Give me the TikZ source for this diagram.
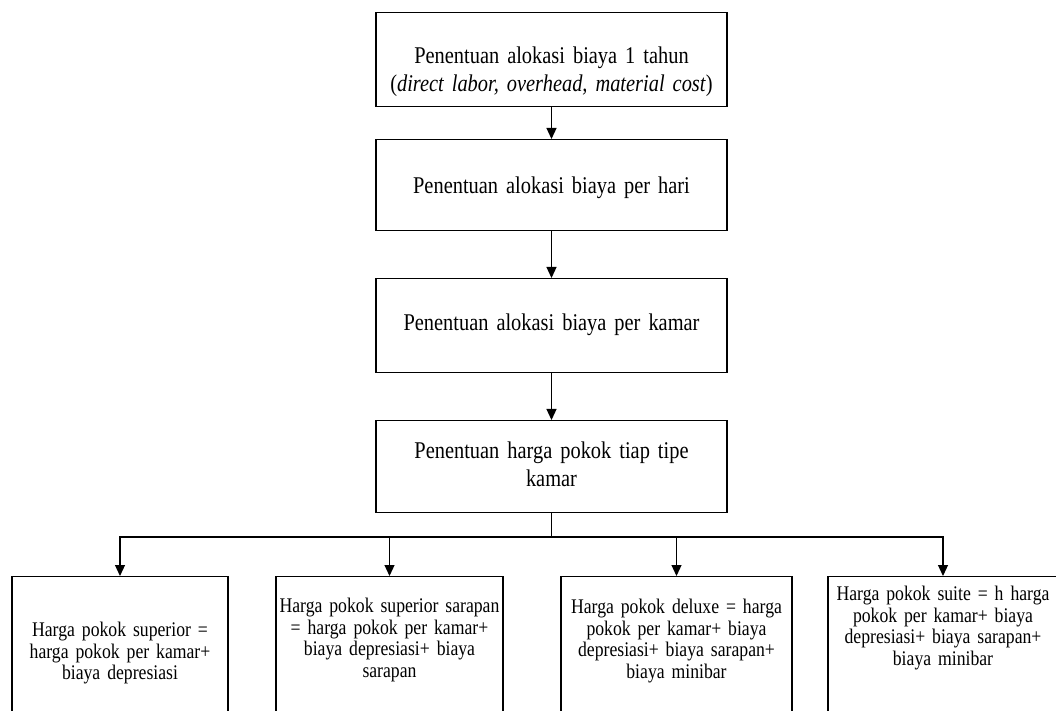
\documentclass[tikz,border=0pt]{standalone}
\usepackage{fontspec}
\setmainfont{Liberation Serif}[FakeStretch=0.85, WordSpace=0.8]
\usepackage{tikz}
\usetikzlibrary{positioning}
\usetikzlibrary{shapes,arrows.meta}
\tikzset{%
  block/.style    = {draw, rectangle, anchor=north, inner sep=0pt, align=center,
    text width=175.5pt, font=\fontsize{12pt}{14pt}\selectfont}, % Step
  result/.style   = {draw, rectangle, anchor=north, inner sep=0pt, align=center,
    text depth=100pt, font=\fontsize{10.4pt}{10.8pt}\selectfont}, % Room type
  split/.style    = {coordinate} % Branch
}

\begin{document}
\begin{tikzpicture}[x=0.5pt, y=-0.5pt, line width=0.6pt, >={Triangle[length=5.5pt, width=5pt]}]

	\useasboundingbox (0,0) rectangle (1056,711);
	\clip (0,0) rectangle (1056,711);

	\draw node at (551.5,12) [block, text height=25.5pt, text depth=21.5pt] (tahun) {Penentuan alokasi biaya 1 tahun\\(\textit{direct labor, overhead, material cost})};
	\draw node at (551.5,139) [block, text height=27pt, text depth=18.5pt] (hari) {Penentuan alokasi biaya per hari};
	\draw node at (551.5,278) [block, text height=26pt, text depth=21pt] (kamar) {Penentuan alokasi biaya per kamar};
	\draw node at (551.5,420) [block, text height=19pt, text depth=27pt] (tipe) {Penentuan harga pokok tiap tipe\\kamar};

	\draw node at (551.5,537) [split] (cabang) {};

	\draw node at (120,576) [result, text width=108pt, text height=30pt] (superior) {Harga pokok superior =\\harga pokok per kamar+\\biaya depresiasi};
	\draw node at (389.5,576) [result, text width=113.5pt, text height=18pt] (sarapan) {Harga pokok superior sarapan\\= harga pokok per kamar+\\biaya depresiasi+ biaya\\sarapan};
	\draw node at (676.5,576) [result, text width=115.5pt, text height=18.5pt] (deluxe) {Harga pokok deluxe = harga\\pokok per kamar+ biaya\\depresiasi+ biaya sarapan+\\biaya minibar};
	\draw node at (943,576) [result, text width=115pt, text height=12pt] (suite) {Harga pokok suite = h harga\\pokok per kamar+ biaya\\depresiasi+ biaya sarapan+\\biaya minibar};

  \draw[->] (tahun) -- (hari);
  \draw[->] (hari) -- (kamar);
  \draw[->] (kamar) -- (tipe);
  \draw (tipe) -- (cabang);
  \draw[->] (cabang) -| (superior);
  \draw[->] (cabang) -| (sarapan);
  \draw[->] (cabang) -| (deluxe);
  \draw[->] (cabang) -| (suite);

\end{tikzpicture}
\end{document}
